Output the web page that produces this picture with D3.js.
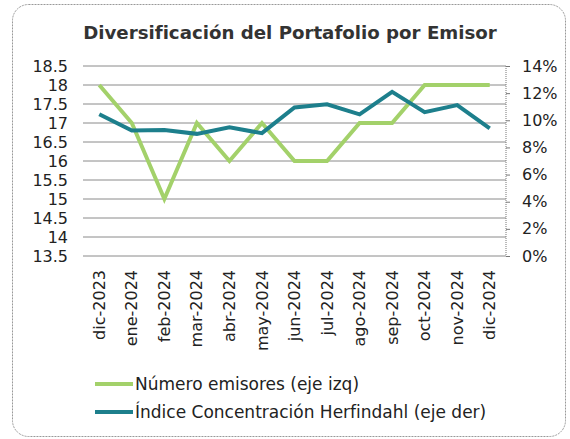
<!DOCTYPE html>
<html lang="es">
<head>
<meta charset="UTF-8">
<title>Diversificación del Portafolio por Emisor</title>
<style>
  body { margin: 0; background: #fff; }
  svg { display: block; font-family: "DejaVu Sans", sans-serif; }
</style>
</head>
<body>
<svg width="570" height="439"></svg>
<script src="https://d3js.org/d3.v7.min.js"></script>
<script>
// data
const months = ["dic-2023", "ene-2024", "feb-2024", "mar-2024", "abr-2024", "may-2024", "jun-2024",
                "jul-2024", "ago-2024", "sep-2024", "oct-2024", "nov-2024", "dic-2024"];
const numEmisores = [18, 17, 15, 17, 16, 17, 16, 16, 17, 17, 18, 18, 18];
const herfindahl = [10.45, 9.25, 9.28, 9.0, 9.48, 9.05, 10.95, 11.18, 10.44, 12.1, 10.6, 11.12, 9.4];
const leftTicks = [13.5, 14, 14.5, 15, 15.5, 16, 16.5, 17, 17.5, 18, 18.5];
const rightTicks = [0, 2, 4, 6, 8, 10, 12, 14];

const green = "#a3d16a", teal = "#1d7f8c";
const plotL = 83, plotR = 506, plotT = 66, plotB = 256;

const svg = d3.select("svg");

// border
svg.append("rect")
  .attr("x", 12.5).attr("y", 4.5).attr("width", 553).attr("height", 432)
  .attr("rx", 16).attr("fill", "none")
  .attr("stroke", "#999").attr("stroke-dasharray", "2,1");

svg.append("text")
  .attr("x", 290).attr("y", 39)
  .attr("text-anchor", "middle")
  .attr("font-size", 18.2).attr("font-weight", "bold").attr("fill", "#333")
  .text("Diversificación del Portafolio por Emisor");

const x = d3.scaleBand().domain(months).range([plotL, plotR]);
const yL = d3.scaleLinear().domain([13.5, 18.5]).range([plotB, plotT]);
const yR = d3.scaleLinear().domain([0, 14]).range([plotB, plotT]);

// gridlines
svg.append("g").selectAll("line")
  .data(leftTicks).join("line")
  .attr("x1", plotL).attr("x2", plotR)
  .attr("y1", d => yL(d)).attr("y2", d => yL(d))
  .attr("stroke", "#8a8a8a").attr("stroke-width", 1);

// left axis labels
const axL = svg.append("g")
  .attr("transform", `translate(${plotL},0)`)
  .call(d3.axisLeft(yL).tickValues(leftTicks).tickSize(0).tickPadding(15).tickFormat(d3.format("")));
axL.select(".domain").remove();
axL.selectAll("text").attr("font-size", 16).attr("font-family", "DejaVu Sans").attr("fill", "#222");

// right axis
const axR = svg.append("g")
  .attr("transform", `translate(${plotR},0)`)
  .call(d3.axisRight(yR).tickValues(rightTicks).tickSize(4).tickPadding(12).tickFormat(d => d + "%"));
axR.select(".domain").attr("stroke", "#777").attr("stroke-dasharray", "1,1").attr("d", `M0,${plotT}V${plotB}`);
axR.selectAll("line").attr("stroke", "#777");
axR.selectAll("text").attr("font-size", 16).attr("font-family", "DejaVu Sans").attr("fill", "#222");

// x axis labels
const axX = svg.append("g")
  .attr("transform", `translate(0,${plotB})`)
  .call(d3.axisBottom(x).tickSize(0).tickPadding(0));
axX.select(".domain").remove();
axX.selectAll("text")
  .attr("font-size", 16).attr("font-family", "DejaVu Sans").attr("fill", "#222")
  .attr("transform", "rotate(-90)")
  .attr("text-anchor", "end")
  .attr("x", -14).attr("y", 0).attr("dy", "0.35em");

const cx = d => x(d) + x.bandwidth() / 2;

svg.append("path")
  .datum(months.map((m, i) => [cx(m), yL(numEmisores[i])]))
  .attr("fill", "none").attr("stroke", green).attr("stroke-width", 4)
  .attr("d", d3.line());

svg.append("path")
  .datum(months.map((m, i) => [cx(m), yR(herfindahl[i])]))
  .attr("fill", "none").attr("stroke", teal).attr("stroke-width", 4)
  .attr("d", d3.line());

// legend
const legend = [
  { label: "Número emisores (eje izq)", color: green },
  { label: "Índice Concentración Herfindahl (eje der)", color: teal }
];
const lg = svg.append("g").selectAll("g").data(legend).join("g")
  .attr("transform", (d, i) => `translate(95,${384 + i * 28})`);
lg.append("line").attr("x1", 0).attr("x2", 38)
  .attr("stroke", d => d.color).attr("stroke-width", 4);
lg.append("text").attr("x", 40).attr("dy", "0.35em")
  .attr("font-size", 17).attr("fill", "#222")
  .text(d => d.label);
</script>
</body>
</html>
